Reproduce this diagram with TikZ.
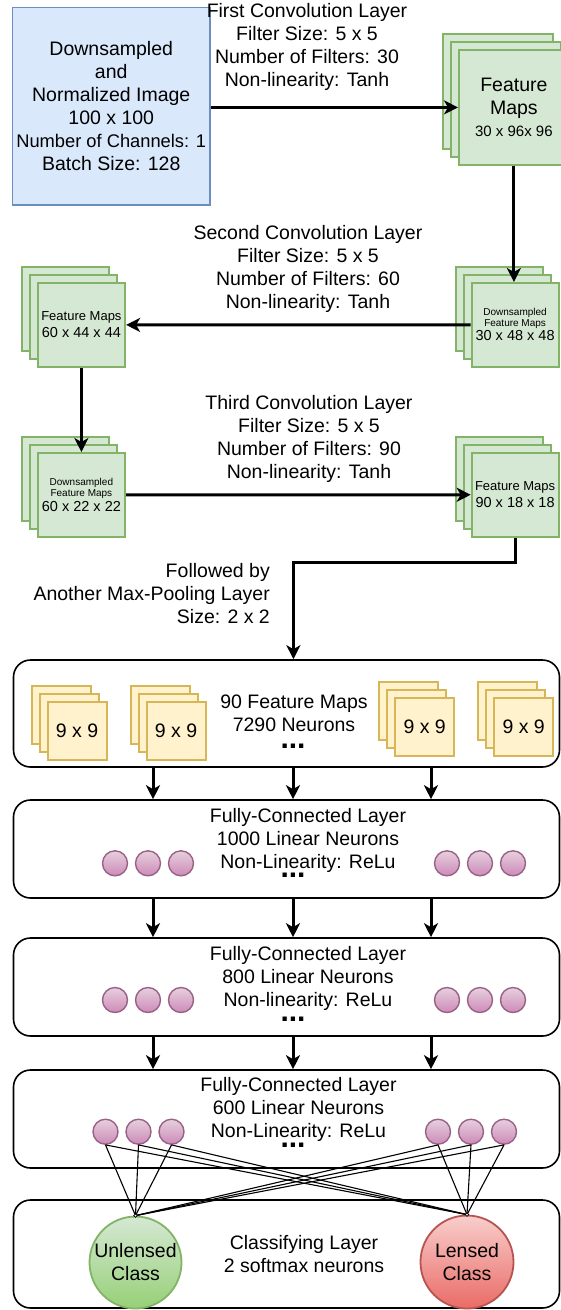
\documentclass[tikz,border=0pt]{standalone}
\usepackage{fontspec}
\setmainfont{Liberation Sans}
\usetikzlibrary{arrows.meta,calc}
\definecolor{bluefill}{HTML}{DAE8FC}
\definecolor{bluestroke}{HTML}{6C8EBF}
\definecolor{gfill}{HTML}{D5E8D4}
\definecolor{gstroke}{HTML}{82B366}
\definecolor{yfill}{HTML}{FFF2CC}
\definecolor{ystroke}{HTML}{D6B656}
\definecolor{pfill}{HTML}{E6D0DE}
\definecolor{pgrad}{HTML}{CD8AB8}
\definecolor{pstroke}{HTML}{996185}
\definecolor{ugrad}{HTML}{97D077}
\definecolor{rfill}{HTML}{F8CECC}
\definecolor{rgrad}{HTML}{EA6B66}
\definecolor{rstroke}{HTML}{B85450}
\tikzset{
  big/.style={font=\fontsize{19.5}{23}\selectfont},
  lbl/.style={big, align=center, inner sep=0pt},
  arr/.style={line width=3pt, -{Stealth[length=14pt,width=14pt,inset=4pt]}},
  gsq/.style={draw=gstroke, fill=gfill, line width=1.8pt, rectangle, inner sep=0pt, anchor=north west, align=center},
  ysq/.style={draw=ystroke, fill=yfill, line width=1.8pt, rectangle, inner sep=0pt, anchor=north west,
    minimum width=59pt, minimum height=58.5pt, big},
  layer/.style={draw=black, fill=white, line width=1.6pt, rounded corners=17pt, minimum width=546pt, inner sep=0pt},
  neuron/.style={circle, draw=pstroke, line width=1.4pt, top color=pfill, bottom color=pgrad, minimum size=25pt, inner sep=0pt},
  dotsnode/.style={font=\fontsize{30}{30}\selectfont\bfseries, inner sep=0pt},
  conn/.style={line width=1.1pt},
  junction/.style={circle, draw=black, line width=0.8pt, fill=white, minimum size=3.5pt, inner sep=0pt},
}
\newcommand\gstack[6][]{%
  \node[gsq, minimum width=#5pt, minimum height=#6pt] (#2b) at (#3-16,#4-16) {};
  \node[gsq, minimum width=#5pt, minimum height=#6pt] (#2m) at (#3-8,#4-8) {};
}
\newcommand\gfront[7][]{%
  \node[gsq, minimum width=#5pt, minimum height=#6pt, #1] (#2) at (#3,#4) {#7};
}
\newcommand\ystack[4]{%
  \node[ysq] (#1b) at (#2-16,#3-16) {};
  \node[ysq] (#1m) at (#2-8,#3-8) {};
  \node[ysq] (#1) at (#2,#3) {#4};
}
\begin{document}
\begin{tikzpicture}[x=1pt,y=-1pt]
\fill[white] (0,0) rectangle (561,1310);
\useasboundingbox (0,0) rectangle (561,1310);

% input image
\node[draw=bluestroke, fill=bluefill, line width=1.8pt, minimum width=197.5pt, minimum height=197.5pt, lbl]
  (img) at (111.25,106.25) {Downsampled\\and\\Normalized Image\\100 x 100\\{\fontsize{18.3}{23}\selectfont Number of Channels: 1}\\Batch Size: 128};

% labels
\node[lbl] (l1) at (307,47.2) {First Convolution Layer\\Filter Size: 5 x 5\\Number of Filters: 30\\Non-linearity: Tanh};
\node[lbl] (l2) at (308,269.3) {Second Convolution Layer\\Filter Size: 5 x 5\\Number of Filters: 60\\Non-linearity: Tanh};
\node[lbl] (l3) at (309,439.2) {Third Convolution Layer\\Filter Size: 5 x 5\\Number of Filters: 90\\Non-linearity: Tanh};
\node[lbl, align=right, anchor=east] (l4) at (270,593.3) {Followed by\\Another Max-Pooling Layer\\Size: 2 x 2};

% green stacks
\gstack{s1}{458}{49}{110}{115}
\gfront[big]{s1}{458}{49}{110}{115}{Feature\\Maps\\[-1pt]{\fontsize{15}{17}\selectfont 30 x 96x 96}}
\gstack{s2r}{470.7}{282}{87}{83.7}
\gfront[font=\fontsize{10}{11}\selectfont]{s2r}{470.7}{282}{87}{83.7}{Downsampled\\Feature Maps\\[1pt]{\fontsize{14.5}{16}\selectfont 30 x 48 x 48}}
\gstack{s2l}{36.7}{282.3}{87.6}{83.4}
\gfront[font=\fontsize{13}{17}\selectfont]{s2l}{36.7}{282.3}{87.6}{83.4}{Feature Maps\\{\fontsize{14.5}{17}\selectfont 60 x 44 x 44}}
\gstack{s3l}{36.7}{452}{87.6}{84}
\gfront[font=\fontsize{10}{11}\selectfont]{s3l}{36.7}{452}{87.6}{84}{Downsampled\\Feature Maps\\[1pt]{\fontsize{14.5}{16}\selectfont 60 x 22 x 22}}
\gstack{s3r}{470.7}{452}{87}{83.7}
\gfront[font=\fontsize{13}{17}\selectfont]{s3r}{470.7}{452}{87}{83.7}{Feature Maps\\{\fontsize{14.5}{17}\selectfont 90 x 18 x 18}}

% conv arrows
\draw[arr] (img.east |- s1.west) -- (s1.west);
\draw[arr] (s1.south) -- (s1.south |- s2r.north);
\draw[arr] (s2r.west) -- (s2l.east);
\draw[arr] (s2l.south) -- (s2l.south |- s3l.north);
\draw[arr] (s3l.east) -- (s3r.west);

% layer boxes
\node[layer, minimum height=107pt] (b9) at (286.5,713.5) {};
\node[layer, minimum height=98pt] (fc1) at (286.5,849) {};
\node[layer, minimum height=98pt] (fc2) at (286.5,987) {};
\node[layer, minimum height=98pt] (fc3) at (286.5,1119) {};
\node[layer, minimum height=108pt] (cls) at (286.5,1254) {};

\coordinate (turn) at (293.4,562);
\draw[arr] (s3r.south) |- (turn) -- (turn |- b9.north);

% 9x9 stacks
\ystack{ya}{46.7}{700.7}{9 x 9}
\ystack{yb}{145.7}{700.7}{9 x 9}
\ystack{yc}{394.3}{696.7}{9 x 9}
\ystack{yd}{493.3}{696.7}{9 x 9}
\node[lbl] (t9) at (294,712.9) {90 Feature Maps\\7290 Neurons};
\node[dotsnode] (d9) at (293,746.7) {...};

% FC texts
\node[lbl] (t1) at (308,840) {Fully-Connected Layer\\1000 Linear Neurons\\Non-Linearity: ReLu};
\node[dotsnode] (d1) at (293,875) {...};
\node[lbl] (t2) at (308,978.8) {Fully-Connected Layer\\800 Linear Neurons\\Non-linearity: ReLu};
\node[dotsnode] (d2) at (293,1019) {...};
\node[lbl] (t3) at (298.5,1109.8) {Fully-Connected Layer\\600 Linear Neurons\\Non-Linearity: ReLu};
\node[dotsnode] (d3) at (293,1145) {...};
\node[lbl] (tc) at (304,1254) {Classifying Layer\\2 softmax neurons};

% neurons
\foreach \x [count=\i] in {115,148,181,447,480,513} {
  \node[neuron] (na\i) at (\x,863.3) {};
  \node[neuron] (nb\i) at (\x,1000) {};
}
\foreach \x [count=\i] in {105.5,138.5,171.5,438,471,504} {
  \node[neuron] (nc\i) at (\x,1131.7) {};
}

% arrows between layers
\coordinate (xa) at (153,0);
\coordinate (xb) at (293,0);
\coordinate (xc) at (431,0);
\foreach \c in {xa,xb,xc} {
  \draw[arr] (\c |- b9.south) -- (\c |- fc1.north);
  \draw[arr] (\c |- fc1.south) -- (\c |- fc2.north);
  \draw[arr] (\c |- fc2.south) -- (\c |- fc3.north);
}

% output neurons
\node[circle, draw=gstroke, line width=1.8pt, top color=gfill, bottom color=ugrad, minimum size=92pt, inner sep=0pt, lbl]
  (ucls) at (135.5,1262.5) {Unlensed\\Class};
\node[circle, draw=rstroke, line width=1.8pt, top color=rfill, bottom color=rgrad, minimum size=93pt, inner sep=0pt, lbl]
  (lcls) at (467,1262) {Lensed\\Class};

\foreach \i in {1,...,6} {
  \draw[conn] (nc\i.south) -- (ucls.north);
  \draw[conn] (nc\i.south) -- (lcls.north);
}
\node[junction] (ju) at (ucls.north) {};
\node[junction] (jl) at (lcls.north) {};
\end{tikzpicture}
\end{document}
